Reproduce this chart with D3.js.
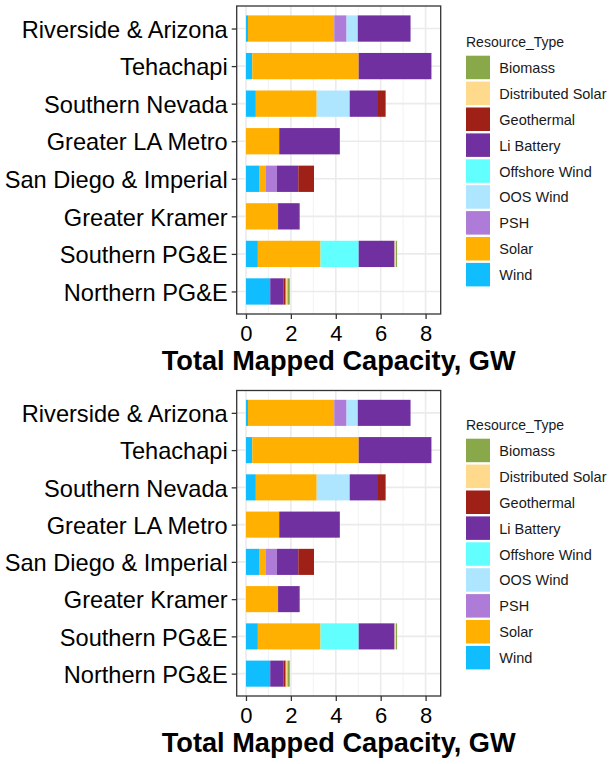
<!DOCTYPE html>
<html>
<head>
<meta charset="utf-8">
<script src="https://cdn.jsdelivr.net/npm/d3@7"></script>
<style>
  body { margin: 0; background: #fff; }
  text { font-family: "Liberation Sans", Arial, sans-serif; }
</style>
</head>
<body>
<div id="chart"></div>
<script>
// regions, top to bottom
var regions = ["Riverside & Arizona", "Tehachapi", "Southern Nevada", "Greater LA Metro",
               "San Diego & Imperial", "Greater Kramer", "Southern PG&E", "Northern PG&E"];

// legend order
var types = ["Biomass", "Distributed Solar", "Geothermal", "Li Battery", "Offshore Wind",
             "OOS Wind", "PSH", "Solar", "Wind"];
var colors = ["#88A84A", "#FFDA8C", "#9E2016", "#7030A0", "#62FFFF",
              "#AEE6FF", "#AE7CD8", "#FFB000", "#10BDFF"];

// GW per region (same order as regions)
var biomass      = [0, 0, 0, 0, 0, 0, 0.05, 0.10];
var distSolar    = [0, 0, 0, 0, 0, 0, 0.06, 0.08];
var geothermal   = [0, 0, 0.34, 0, 0.70, 0.03, 0, 0.09];
var liBattery    = [2.35, 3.24, 1.26, 2.70, 0.96, 0.93, 1.60, 0.60];
var offshoreWind = [0, 0, 0, 0, 0, 0, 1.70, 0];
var oosWind      = [0.50, 0, 1.47, 0, 0, 0, 0, 0];
var psh          = [0.55, 0, 0, 0, 0.48, 0, 0, 0];
var solar        = [3.84, 4.74, 2.71, 1.48, 0.31, 1.43, 2.79, 0];
var wind         = [0.09, 0.28, 0.44, 0, 0.58, 0, 0.53, 1.08];

var xTicks = [0, 2, 4, 6, 8];
var xMinor = [1, 3, 5, 7];

var series = [biomass, distSolar, geothermal, liBattery, offshoreWind, oosWind, psh, solar, wind];
var rows = regions.map(function(r, i) {
  var o = {region: r};
  types.forEach(function(t, j) { o[t] = series[j][i]; });
  return o;
});

// ggplot stacks left-to-right in reverse legend order
var stackKeys = types.slice().reverse();
var stacked = d3.stack().keys(stackKeys)(rows);
var color = d3.scaleOrdinal().domain(types).range(colors);
var maxVal = d3.max(stacked[stacked.length - 1], function(d) { return d[1]; });

var svg = d3.select("#chart").append("svg")
  .attr("width", 613).attr("height", 764);

function drawPanel(top, bottom, dy) {
  var left = 236.7, right = 440.7;
  var g = svg.append("g");

  var x = d3.scaleLinear()
    .domain([-0.05 * maxVal, maxVal * 1.05])
    .range([left, right]);
  var y = d3.scalePoint()
    .domain(regions)
    .range([top, bottom])
    .padding(0.6);
  var barH = y.step() * 0.7;

  // grid
  g.selectAll(".minor").data(xMinor).enter().append("line")
    .attr("x1", function(d) { return x(d); }).attr("x2", function(d) { return x(d); })
    .attr("y1", top).attr("y2", bottom)
    .attr("stroke", "#F2F2F2").attr("stroke-width", 1);
  g.selectAll(".major").data(xTicks).enter().append("line")
    .attr("x1", function(d) { return x(d); }).attr("x2", function(d) { return x(d); })
    .attr("y1", top).attr("y2", bottom)
    .attr("stroke", "#EBEBEB").attr("stroke-width", 1.6);
  g.selectAll(".hgrid").data(regions).enter().append("line")
    .attr("x1", left).attr("x2", right)
    .attr("y1", function(d) { return y(d); }).attr("y2", function(d) { return y(d); })
    .attr("stroke", "#EBEBEB").attr("stroke-width", 1.6);

  // bars
  g.selectAll(".layer").data(stacked).enter().append("g")
    .attr("fill", function(d) { return color(d.key); })
    .selectAll("rect").data(function(d) { return d; }).enter().append("rect")
      .attr("x", function(d) { return x(d[0]); })
      .attr("y", function(d) { return y(d.data.region) - barH / 2; })
      .attr("width", function(d) { return Math.max(0, x(d[1]) - x(d[0])); })
      .attr("height", barH);

  // border
  g.append("rect")
    .attr("x", left).attr("y", top)
    .attr("width", right - left).attr("height", bottom - top)
    .attr("fill", "none").attr("stroke", "#333").attr("stroke-width", 1.3);

  // x axis
  var xa = g.append("g")
    .attr("transform", "translate(0," + bottom + ")")
    .call(d3.axisBottom(x).tickValues(xTicks).tickSize(5).tickPadding(4).tickFormat(d3.format("d")));
  xa.select(".domain").remove();
  xa.selectAll("line").attr("stroke", "#333").attr("stroke-width", 1.3);
  xa.selectAll("text").attr("font-size", "22px").attr("fill", "#000")
    .attr("dy", null).attr("y", 26.5);

  // y axis
  var ya = g.append("g")
    .attr("transform", "translate(" + left + ",0)")
    .call(d3.axisLeft(y).tickSize(5).tickPadding(4));
  ya.select(".domain").remove();
  ya.selectAll("line").attr("stroke", "#333").attr("stroke-width", 1.3);
  ya.selectAll("text").attr("font-size", "23.6px").attr("fill", "#000")
    .attr("dy", "0.37em");

  // x title
  g.append("text")
    .attr("x", (left + right) / 2).attr("y", bottom + 56)
    .attr("text-anchor", "middle")
    .attr("font-size", "27.2px").attr("font-weight", "bold")
    .text("Total Mapped Capacity, GW");

  // legend
  var lg = g.append("g").attr("transform", "translate(466," + dy + ")");
  lg.append("text").attr("x", 0).attr("y", 46.7)
    .attr("font-size", "14px").attr("fill", "#1a1a1a").text("Resource_Type");
  var item = lg.selectAll(".item").data(types).enter().append("g")
    .attr("transform", function(d, i) { return "translate(0," + (55.7 + i * 25.9) + ")"; });
  item.append("rect")
    .attr("width", 24).attr("height", 23.5)
    .attr("fill", function(d) { return color(d); });
  item.append("text")
    .attr("x", 33.3).attr("y", 12).attr("dy", "0.36em")
    .attr("font-size", "14.5px").attr("fill", "#1a1a1a")
    .text(function(d) { return d; });
}

drawPanel(6, 314, 0);
drawPanel(390.5, 696, 383);
</script>
</body>
</html>
